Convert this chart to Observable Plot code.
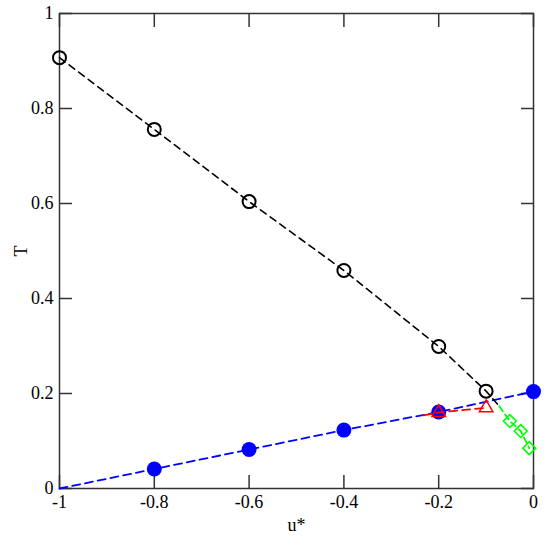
<!DOCTYPE html>
<html>
<head>
<meta charset="utf-8">
<script src="https://cdn.jsdelivr.net/npm/d3@7"></script>
<script src="https://cdn.jsdelivr.net/npm/@observablehq/plot@0.6"></script>
<style>
  html, body { margin: 0; padding: 0; background: #fff; }
</style>
</head>
<body>
<div id="chart"></div>
<script>
// Tick values and labels
const xTicks = [-1, -0.8, -0.6, -0.4, -0.2, 0];
const xTickLabels = ["-1", "-0.8", "-0.6", "-0.4", "-0.2", "0"];
const yTicks = [0, 0.2, 0.4, 0.6, 0.8, 1];
const yTickLabels = ["0", "0.2", "0.4", "0.6", "0.8", "1"];

// Black open circles (with dashed line continuing to an unmarked end point)
const blackU = [-1, -0.8, -0.6, -0.4, -0.2, -0.1];
const blackT = [0.907, 0.756, 0.604, 0.459, 0.299, 0.205];
const blackLineU = [-1, -0.8, -0.6, -0.4, -0.2, -0.1, -0.072];
const blackLineT = [0.907, 0.756, 0.604, 0.459, 0.299, 0.205, 0.173];

// Blue filled circles and dashed line from (-1, 0)
const blueU = [-0.8, -0.6, -0.4, -0.2, 0];
const blueT = [0.041, 0.082, 0.123, 0.161, 0.204];
const blueLineU = [-1, -0.8, -0.6, -0.4, -0.2, 0];
const blueLineT = [0, 0.041, 0.082, 0.123, 0.161, 0.204];

// Red open triangles
const redU = [-0.2, -0.1];
const redT = [0.16, 0.17];
const redLineU = [-0.232, -0.2, -0.1];
const redLineT = [0.154, 0.16, 0.17];

// Green open diamonds
const greenU = [-0.05, -0.027, -0.009];
const greenT = [0.142, 0.121, 0.085];
const greenLineU = [-0.072, -0.05, -0.027, -0.009];
const greenLineT = [0.173, 0.142, 0.121, 0.085];

const zip = (us, ts) => us.map((u, i) => ({u, T: ts[i]}));

const fmtX = d => xTickLabels[xTicks.indexOf(d)] ?? "";
const fmtY = d => yTickLabels[yTicks.indexOf(d)] ?? "";

const dash = "8,5";

const chart = Plot.plot({
  width: 550,
  height: 537,
  marginLeft: 59,
  marginRight: 17,
  marginTop: 13,
  marginBottom: 49,
  style: {fontFamily: "Liberation Serif", fontSize: "18px", background: "#fff", color: "#000"},
  x: {domain: [-1, 0]},
  y: {domain: [0, 1]},
  marks: [
    // axes: labels outside, ticks inside
    Plot.axisX({anchor: "bottom", ticks: xTicks, tickFormat: fmtX, tickSize: -13, tickPadding: 20,
      stroke: "#333", strokeWidth: 1.5, label: "u*", labelAnchor: "center", labelOffset: 42, labelArrow: false}),
    Plot.axisX({anchor: "top", ticks: xTicks, tickFormat: () => "", tickSize: -13, stroke: "#333", strokeWidth: 1.5, label: null}),
    Plot.axisY({anchor: "left", ticks: yTicks, tickFormat: fmtY, tickSize: -13, tickPadding: 19,
      stroke: "#333", strokeWidth: 1.5, label: "T", labelAnchor: "center", labelOffset: 45, labelArrow: false}),
    Plot.axisY({anchor: "right", ticks: yTicks, tickFormat: () => "", tickSize: -13, stroke: "#333", strokeWidth: 1.5, label: null}),
    Plot.frame({stroke: "#333", strokeWidth: 1.5}),

    // blue
    Plot.line(zip(blueLineU, blueLineT), {x: "u", y: "T", stroke: "#0000ff", strokeWidth: 1.8, strokeDasharray: dash}),
    Plot.dot(zip(blueU, blueT), {x: "u", y: "T", r: 7.5, fill: "#0000ff", stroke: "none"}),

    // black
    Plot.line(zip(blackLineU, blackLineT), {x: "u", y: "T", stroke: "#000", strokeWidth: 1.6, strokeDasharray: "7,5"}),
    Plot.dot(zip(blackU, blackT), {x: "u", y: "T", r: 6.5, fill: "none", stroke: "#000", strokeWidth: 2}),

    // red
    Plot.line(zip(redLineU, redLineT), {x: "u", y: "T", stroke: "#ff0000", strokeWidth: 1.8, strokeDasharray: dash}),
    Plot.dot(zip(redU, redT), {x: "u", y: "T", symbol: "triangle", r: 5, fill: "none", stroke: "#ff0000", strokeWidth: 1.5}),

    // green
    Plot.line(zip(greenLineU, greenLineT), {x: "u", y: "T", stroke: "#00ff00", strokeWidth: 1.8, strokeDasharray: "6,4"}),
    Plot.dot(zip(greenU, greenT), {x: "u", y: "T", symbol: "diamond2", r: 5.8, fill: "none", stroke: "#00ff00", strokeWidth: 1.6})
  ]
});

document.getElementById("chart").appendChild(chart);
</script>
</body>
</html>
